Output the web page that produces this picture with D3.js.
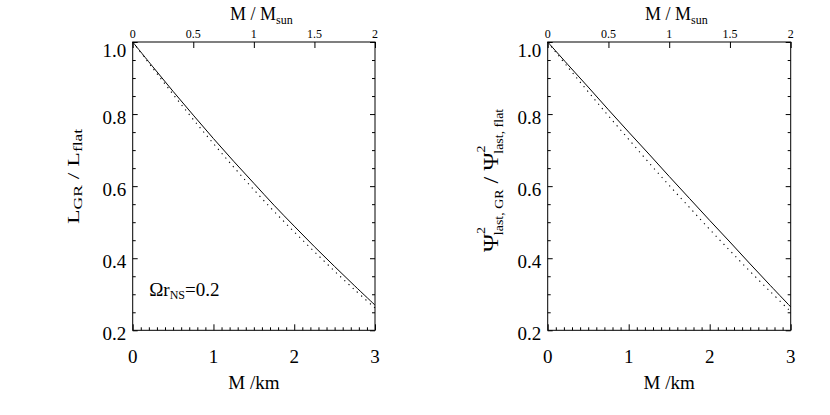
<!DOCTYPE html>
<html><head><meta charset="utf-8">
<script src="https://cdn.jsdelivr.net/npm/d3@7"></script>
<style>
body{margin:0;background:#fff}
svg text, svg tspan{font-family:'Liberation Serif','DejaVu Serif','Times New Roman',serif;fill:#000}
</style>
</head><body>
<svg id="c" width="830" height="415" font-family="Liberation Serif, DejaVu Serif, serif"></svg>
<script>
// ---- data ----
const massKm   = [0,0.25,0.5,0.75,1,1.25,1.5,1.75,2,2.25,2.5,2.75,3];
const lumGR    = [1.000,0.931,0.863,0.797,0.732,0.669,0.608,0.547,0.489,0.432,0.377,0.323,0.270];
const lumFlat  = [1.000,0.927,0.855,0.785,0.718,0.653,0.590,0.530,0.473,0.418,0.364,0.312,0.262];
const psiGR    = [1.000,0.937,0.875,0.812,0.750,0.689,0.627,0.566,0.505,0.445,0.384,0.324,0.265];
const psiFlat  = [1.000,0.930,0.862,0.795,0.730,0.665,0.602,0.541,0.480,0.421,0.363,0.307,0.252];
const kmTicks    = [0,1,2,3];
const kmLabels   = ["0","1","2","3"];
const msunTicks  = [0,0.5,1,1.5,2];
const msunLabels = ["0","0.5","1","1.5","2"];
const yTicks     = [0.2,0.4,0.6,0.8,1.0];
const yLabels    = ["0.2","0.4","0.6","0.8","1.0"];

const FONT = "Liberation Serif, DejaVu Serif, serif";
const svg = d3.select("#c");
const top0 = 42, bot0 = 330.3;

function panel(xl, xr, solid, dotted, ylab, annot){
  const x = d3.scaleLinear([0,3],[xl,xr]);
  const xs = d3.scaleLinear([0,2],[xl,xr]);
  const y = d3.scaleLinear([0.2,1.0],[bot0,top0]);
  const g = svg.append("g").attr("font-family",FONT);

  const tickStyle = s => { s.attr("font-family",null).attr("font-size",null); s.select(".domain").remove(); s.selectAll("line").attr("stroke","#000").attr("stroke-width",1); s.selectAll("text").remove(); };
  g.append("g").attr("transform",`translate(0,${bot0})`)
    .call(d3.axisBottom(x).tickValues(x.ticks(30).filter(v=>Math.abs(v-Math.round(v))>1e-6)).tickSizeInner(-3).tickSizeOuter(0)).call(tickStyle);
  g.append("g").attr("transform",`translate(0,${bot0})`)
    .call(d3.axisBottom(x).tickValues(kmTicks).tickSizeInner(-6).tickSizeOuter(0)).call(tickStyle);
  g.append("g").attr("transform",`translate(0,${top0})`)
    .call(d3.axisTop(xs).tickValues(msunTicks).tickSizeInner(-6).tickSizeOuter(0)).call(tickStyle);
  const yMinor = y.ticks(16).filter(v=>!yTicks.some(t=>Math.abs(t-v)<1e-6));
  [[d3.axisLeft, xl],[d3.axisRight, xr]].forEach(([ax,px])=>{
    g.append("g").attr("transform",`translate(${px},0)`)
      .call(ax(y).tickValues(yMinor).tickSizeInner(-3).tickSizeOuter(0)).call(tickStyle);
    g.append("g").attr("transform",`translate(${px},0)`)
      .call(ax(y).tickValues(yTicks).tickSizeInner(-5).tickSizeOuter(0)).call(tickStyle);
  });

  g.append("rect").attr("x",x(0)).attr("y",y(1.0)).attr("width",x(3)-x(0)).attr("height",y(0.2)-y(1.0))
    .attr("fill","none").attr("stroke","#000").attr("stroke-width",1);

  const line = d3.line().x((d,i)=>x(massKm[i])).y(d=>y(d)).curve(d3.curveCatmullRom);
  g.append("path").attr("d",line(dotted)).attr("fill","none").attr("stroke","#000")
    .attr("stroke-width",1.1).attr("stroke-dasharray","1.2,4.5");
  g.append("path").attr("d",line(solid)).attr("fill","none").attr("stroke","#000").attr("stroke-width",1);

  g.selectAll(".yl").data(yTicks).join("text").attr("class","yl")
    .attr("x",xl-6.5).attr("y",d=>Math.max(y(d)+9.5, top0+15)).attr("text-anchor","end")
    .attr("font-size",19).text((d,i)=>yLabels[i]);
  g.selectAll(".xl").data(kmTicks).join("text").attr("class","xl")
    .attr("x",d=>x(d)).attr("y",362.6).attr("text-anchor","middle").attr("font-size",19).text((d,i)=>kmLabels[i]);
  g.selectAll(".tl").data(msunTicks).join("text").attr("class","tl")
    .attr("x",d=>xs(d)).attr("y",38.2).attr("text-anchor","middle").attr("font-size",12).text((d,i)=>msunLabels[i]);

  g.append("text").attr("x",(xl+xr)/2).attr("y",389).attr("text-anchor","middle").attr("font-size",19).text("M /km");
  const tt = g.append("text").attr("x",xl+97.3).attr("y",20).attr("font-size",18);
  tt.append("tspan").text("M / M");
  tt.append("tspan").attr("font-size",12).attr("dy",3.5).text("sun");

  if(annot){
    const a = g.append("text").attr("x",xl+16.5).attr("y",296).attr("font-size",19);
    a.append("tspan").text("Ωr");
    a.append("tspan").attr("font-size",12).attr("dy",3).text("NS");
    a.append("tspan").attr("dy",-3).text("=0.2");
  }

  // vertical label, stretched along its length to the reference length
  const lg = g.append("g").attr("transform",`translate(${ylab.bx},${ylab.cy}) rotate(-90)`);
  const inner = lg.append("g");
  const t = inner.append("text").attr("x",0).attr("y",0);
  ylab.build(t);
  const bb = t.node().getBBox();
  const s = ylab.len / bb.width;
  inner.attr("transform",`scale(${s},1) translate(${-bb.x-bb.width/2},0)`);
}

panel(132.7, 375, lumGR, lumFlat, {bx:78.7, cy:176, len:96, build:t=>{
  t.append("tspan").attr("font-size",17).text("L");
  t.append("tspan").attr("font-size",12.5).attr("dy",3).text("GR");
  t.append("tspan").attr("font-size",17).attr("dy",-3).text(" / L");
  t.append("tspan").attr("font-size",12.5).attr("dy",3).text("flat");
}}, true);

panel(547.7, 790.7, psiGR, psiFlat, {bx:498, cy:180, len:144, build:t=>{
  const sup = (txt)=>t.append("tspan").attr("font-size",12).attr("dy",-13).text(txt);
  t.append("tspan").attr("font-size",21).text("Ψ");
  sup("2");
  t.append("tspan").attr("font-size",12).attr("dx",-7).attr("dy",18).text("last, GR");
  t.append("tspan").attr("font-size",21).attr("dy",-5).text(" / Ψ");
  sup("2");
  t.append("tspan").attr("font-size",12).attr("dx",-7).attr("dy",18).text("last, flat");
}}, false);
</script>
</body></html>
